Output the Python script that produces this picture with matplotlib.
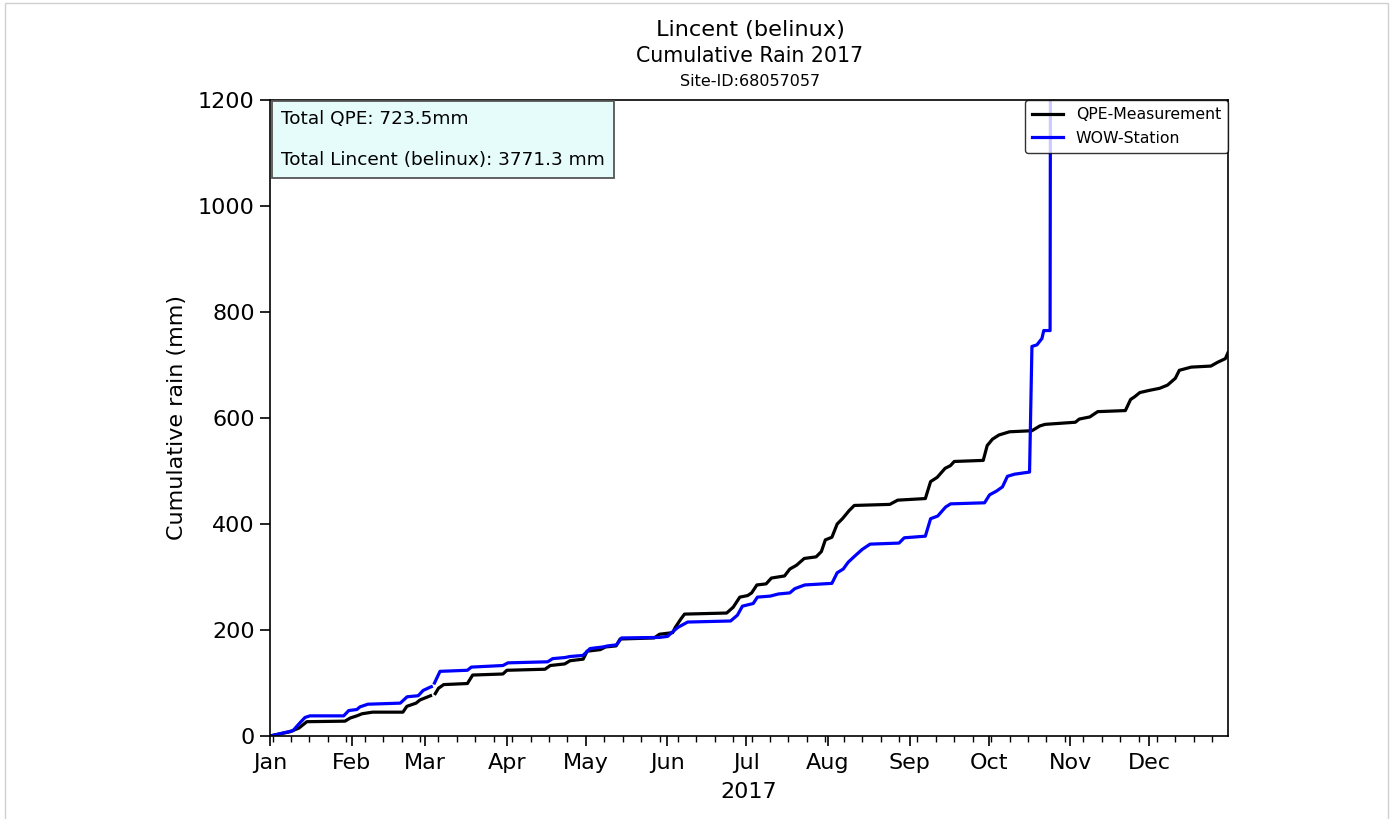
import numpy as np
import pandas as pd
import matplotlib
matplotlib.use("Agg")
import matplotlib.pyplot as plt
import matplotlib.dates as mdates
from matplotlib.patches import Rectangle

# ---- data (day of year 2017, cumulative mm) ----
qpe_days = [0, 7.6, 11, 14, 28.5, 30.5, 33, 35, 39, 50.5, 52, 55.5, 57, 60, 61.0, 61.8, 62.8, 64, 66,
            75, 77, 88.5, 90, 104.5, 106.5, 112, 114, 119, 120.5, 125.5, 127.5, 131.5, 133,
            146, 148, 153, 154, 156, 157.5, 173.5, 176, 178.5, 181.5, 183, 185, 188.5, 190.5,
            195.5, 197.5, 200, 203, 207.5, 209.5, 211, 213.5, 215.5, 217.5, 220, 222,
            235.5, 238.5, 249, 251, 253.5, 256.5, 258.5, 260, 271, 272.5, 274.5, 277, 281,
            289.5, 292.5, 294.5, 306, 307.5, 311.5, 314.5, 325, 327, 328.5, 330.5, 334,
            338, 341, 344, 345.5, 350, 357.5, 360, 363, 364]
qpe_vals = [0, 8, 15, 27, 28, 34, 38, 42, 45, 45, 56, 62, 68, 74, 76, np.nan, 80, 90, 97,
            99, 115, 117, 124, 126, 133, 136, 142, 145, 160, 163, 168, 170, 183,
            185, 192, 195, 205, 220, 230, 232, 243, 262, 265, 270, 285, 287, 298,
            302, 315, 322, 335, 338, 348, 370, 375, 400, 410, 425, 435,
            437, 445, 448, 480, 488, 505, 510, 518, 520, 548, 560, 568, 574,
            576, 585, 588, 592, 598, 602, 612, 614, 635, 640, 648, 652,
            656, 662, 675, 690, 696, 698, 705, 712, 723.5]

wow_days = [0, 8.7, 11.4, 13.3, 15.2, 28, 29.9, 33, 34.2, 37.2, 49.5, 52.1, 56.3, 58.2, 60.8,
            61.3, 61.8, 62.5, 64.6, 75, 76.5, 88.5, 90.4, 105.5, 107.4, 112, 114, 118.9, 121.6,
            126.5, 128.3, 131.7, 133.6, 148, 151.1, 152.6, 155, 158.7, 175, 177.6, 179.5,
            183.6, 185.2, 190.1, 193.2, 197.5, 199.4, 203.2, 213.5, 215.5, 217.8, 219.7,
            222.3, 225, 228, 239, 241, 249, 251, 253.7, 256.7, 258.6, 271.5, 273.4, 276,
            278.3, 280.2, 282.9, 288.6, 289.5, 291.4, 293.3, 294, 296.4, 297.2, 364]
wow_vals = [0, 10, 25, 35, 38, 38, 48, 50, 55, 60, 62, 74, 76, 86, 92,
            93, np.nan, 100, 122, 124, 130, 133, 138, 140, 146, 148, 150, 152, 165,
            168, 170, 172, 185, 186, 188, 195, 205, 215, 217, 228, 245,
            250, 262, 264, 268, 270, 278, 285, 288, 308, 315, 328,
            340, 352, 362, 364, 374, 377, 410, 415, 432, 438, 440, 455, 462,
            470, 490, 494, 498, 735, 738, 750, 765, 765, 3600, 3771.3]

total_qpe = 723.5
total_wow = 3771.3

start = pd.Timestamp("2017-01-01")
qpe_dates = start + pd.to_timedelta(qpe_days, unit="D")
wow_dates = start + pd.to_timedelta(wow_days, unit="D")

plt.rcParams['font.family'] = ['DejaVu Sans']
fig = plt.figure(figsize=(13.92, 8.19), dpi=100)
ax = fig.add_axes([270/1392, 1-736/819, (1228-270)/1392, (736-100)/819])

ax.plot(qpe_dates, qpe_vals, color='black', lw=2.3, label='QPE-Measurement')
ax.plot(wow_dates, wow_vals, color='blue', lw=2.3, label='WOW-Station')

ax.set_xlim(pd.Timestamp("2017-01-01"), pd.Timestamp("2017-12-31"))
ax.set_ylim(0, 1200)
ax.set_yticks([0, 200, 400, 600, 800, 1000, 1200])
ax.xaxis.set_major_locator(mdates.MonthLocator())
ax.xaxis.set_major_formatter(mdates.DateFormatter('%b'))
ax.xaxis.set_minor_locator(mdates.WeekdayLocator(byweekday=mdates.MO))
ax.tick_params(axis='both', which='major', labelsize=16, length=7, width=1.2, pad=4)
ax.tick_params(axis='x', which='major', pad=5)
ax.tick_params(axis='x', which='minor', length=4, width=1)
for s in ax.spines.values():
    s.set_linewidth(1.2)

ax.set_xlabel('2017', fontsize=16, labelpad=7)
ax.set_ylabel('Cumulative rain (mm)', fontsize=16, labelpad=8)

fig.text(750/1392, 1-30/819, 'Lincent (belinux)', ha='center', va='center', fontsize=16.2)
fig.text(750/1392, 1-56/819, 'Cumulative Rain 2017', ha='center', va='center', fontsize=14.8)
fig.text(750/1392, 1-82/819, 'Site-ID:68057057', ha='center', va='center', fontsize=11.5)

ax.text(0.0115, 0.984, f'Total QPE: {total_qpe}mm\n\nTotal Lincent (belinux): {total_wow} mm',
        transform=ax.transAxes, ha='left', va='top', fontsize=13.3, linespacing=1.18,
        bbox=dict(boxstyle='square,pad=0.5', facecolor='#e6fcfb', edgecolor='#555555', lw=1.3),
        zorder=5)

leg = ax.legend(loc='upper right', fontsize=11.3, borderaxespad=0, framealpha=0.8,
                edgecolor='black', fancybox=True, handlelength=2.0, borderpad=0.45,
                labelspacing=0.55)
leg.get_frame().set_linewidth(1.0)

fig.patches.append(Rectangle((5/1392, -0.01), 1383/1392, 1.0 - 3/819 + 0.01,
                             transform=fig.transFigure, fill=False,
                             edgecolor='#d0d0d0', lw=1))

fig.savefig('out.png', dpi=100)
